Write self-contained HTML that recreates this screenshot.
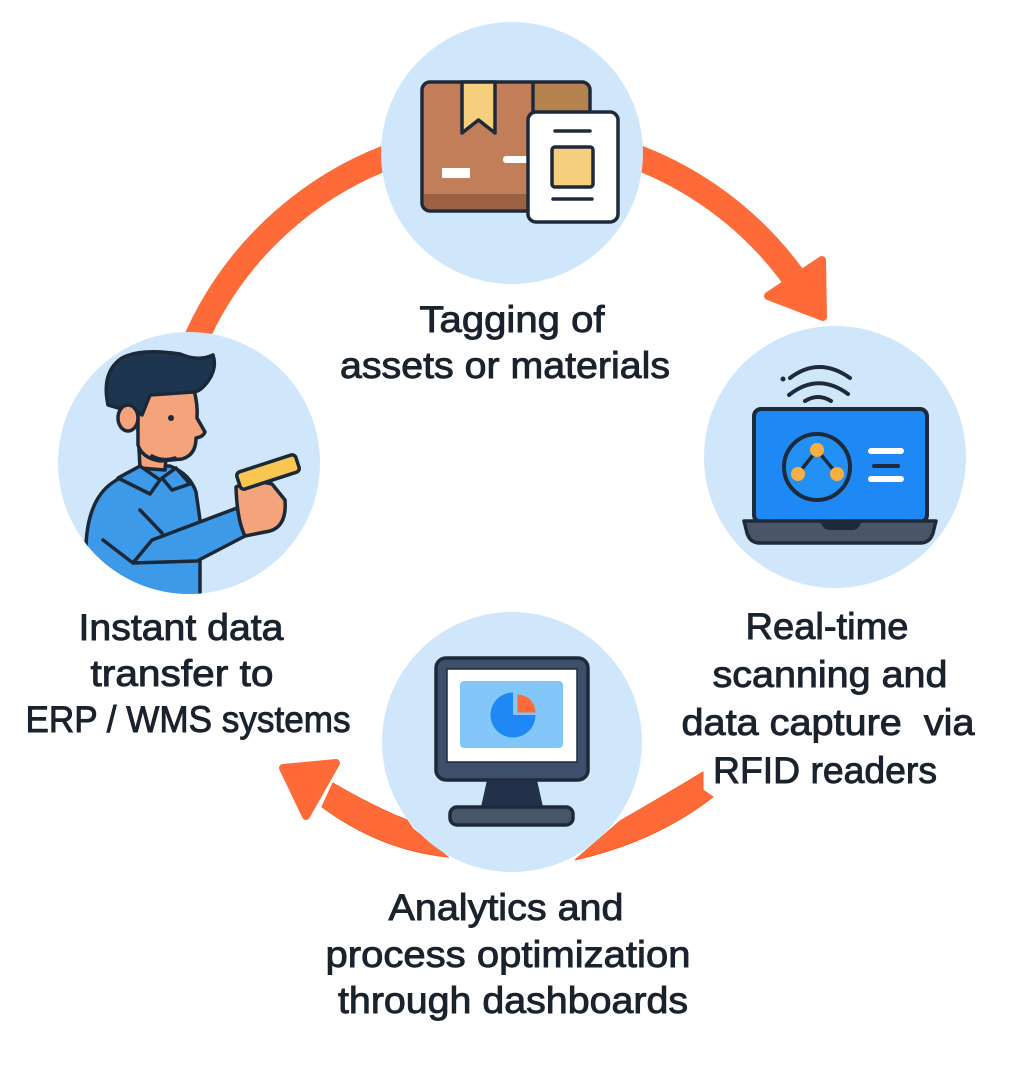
<!DOCTYPE html>
<html><head><meta charset="utf-8"><style>
html,body{margin:0;padding:0;background:#fff;}
svg{display:block;}
text{font-family:"Liberation Sans",sans-serif;font-size:37px;fill:#1a222d;stroke:#1a222d;stroke-width:0.9px;text-anchor:middle;}
</style></head><body>
<svg width="1024" height="1077" viewBox="0 0 1024 1077" xmlns="http://www.w3.org/2000/svg">
<defs><clipPath id="cl"><circle cx="189" cy="463" r="131"/></clipPath></defs>
<rect width="1024" height="1077" fill="#fff"/>

<!-- connectors -->
<path d="M 420 146.5 A 346 346 0 0 0 193.4 345" fill="none" stroke="#FF6B38" stroke-width="25"/>
<path d="M 604 146.5 A 346 346 0 0 1 794 278" fill="none" stroke="#FF6B38" stroke-width="25"/>
<polygon points="768,296 822,260 823,317" fill="#FF6B38" stroke="#FF6B38" stroke-width="8" stroke-linejoin="round"/>
<path d="M 703 772 L 703 790 L 713 797 Q 655 842 575 860 L 620 821 Q 665 795 703 772 Z" fill="#FF6B38" stroke="#FF5A22" stroke-width="1"/>
<path d="M 333 783 Q 372 806 407 820 L 413 829 L 448 857 Q 380 850 322 807 Z" fill="#FF6B38" stroke="#FF5A22" stroke-width="1"/>
<polygon points="283,768 336,763 306,816" fill="#FF6B38" stroke="#FF6B38" stroke-width="8" stroke-linejoin="round"/>

<!-- circles -->
<circle cx="512" cy="153" r="131" fill="#D0E7FB"/>
<circle cx="835" cy="457" r="131" fill="#D0E7FB"/>
<circle cx="189" cy="463" r="131" fill="#D0E7FB"/>
<circle cx="512" cy="742" r="130" fill="#D0E7FB"/>

<!-- top icon: box + tag -->
<rect x="422" y="82" width="168" height="129" rx="8" fill="#C27E58"/>
<rect x="535" y="85" width="53" height="40" fill="#B5844E"/>
<rect x="424" y="194" width="164" height="15" fill="#9B6142"/>
<rect x="422" y="82" width="168" height="129" rx="8" fill="none" stroke="#1e2a3a" stroke-width="3.5"/>
<line x1="533" y1="82" x2="533" y2="115" stroke="#1e2a3a" stroke-width="3.5"/>
<path d="M 462 82 L 495 82 L 495 133 L 478.5 120 L 462 133 Z" fill="#F5CF7E" stroke="#1e2a3a" stroke-width="3.5" stroke-linejoin="round"/>
<rect x="442" y="168" width="28" height="10" rx="1" fill="#fff"/>
<rect x="503" y="156" width="26" height="7" rx="3" fill="#fff"/>
<rect x="528" y="112" width="90" height="110" rx="8" fill="#fff" stroke="#1e2a3a" stroke-width="3.5"/>
<line x1="555" y1="131" x2="590" y2="131" stroke="#1e2a3a" stroke-width="3.5" stroke-linecap="round"/>
<rect x="552" y="147" width="41" height="40" rx="3" fill="#F5CF7E" stroke="#1e2a3a" stroke-width="3.5"/>
<line x1="553" y1="199" x2="592" y2="199" stroke="#1e2a3a" stroke-width="3.5" stroke-linecap="round"/>

<!-- right icon: laptop -->
<g stroke="#1e2a3a" stroke-width="4" stroke-linecap="round" fill="none">
<path d="M 790 378 Q 819 356 850 378"/>
<path d="M 789 395 Q 818 372 848 394"/>
<path d="M 805 401 Q 818 393 831 401"/>
</g>
<circle cx="783" cy="379" r="2.5" fill="#1e2a3a"/>
<rect x="754" y="409" width="173" height="113" rx="7" fill="#1E88F5" stroke="#1e2a3a" stroke-width="4"/>
<circle cx="817" cy="467" r="33" fill="#2290F5" stroke="#1e2a3a" stroke-width="4"/>
<polyline points="798,474 817,450 837,474" fill="none" stroke="#1e2a3a" stroke-width="3.5"/>
<circle cx="817" cy="450" r="7" fill="#F6B042"/>
<circle cx="798" cy="474" r="7" fill="#F6B042"/>
<circle cx="837" cy="474" r="7" fill="#F6B042"/>
<line x1="871" y1="451" x2="901" y2="451" stroke="#fff" stroke-width="6" stroke-linecap="round"/>
<line x1="874" y1="466" x2="898" y2="466" stroke="#1e2a3a" stroke-width="4" stroke-linecap="round"/>
<line x1="871" y1="479" x2="901" y2="479" stroke="#fff" stroke-width="6" stroke-linecap="round"/>
<path d="M 744 521 L 936 521 L 933 533 Q 930 543 920 543 L 760 543 Q 750 543 747 533 Z" fill="#4A5568" stroke="#1e2a3a" stroke-width="3.5" stroke-linejoin="round"/>
<path d="M 820 522 L 862 522 L 858 528 Q 856 530 852 530 L 830 530 Q 826 530 824 528 Z" fill="#1e2a3a"/>

<!-- bottom icon: monitor -->
<rect x="436" y="658" width="152" height="122" rx="10" fill="#3E4F6B" stroke="#1e2a3a" stroke-width="3.5"/>
<rect x="447" y="669" width="130" height="93" fill="#fff" stroke="#1e2a3a" stroke-width="1.5"/>
<rect x="460" y="681" width="103" height="67" rx="4" fill="#82C6FA"/>
<path d="M 513 715 L 513 692.5 A 22.5 22.5 0 1 0 535.5 715 Z" fill="#1E88F5"/>
<path d="M 517.5 712.5 L 517.5 694.5 A 18 18 0 0 1 535.5 712.5 Z" fill="#FF6B38"/>
<polygon points="487,780 537,780 543,807 481,807" fill="#22304A"/>
<rect x="450" y="807" width="123" height="18" rx="7" fill="#475569" stroke="#1e2a3a" stroke-width="3.5"/>

<!-- left icon: person -->
<g clip-path="url(#cl)" stroke="#1b2838" stroke-width="3.5" stroke-linejoin="round" stroke-linecap="round">
<path d="M 84 600 L 86 545 Q 88 500 112 483 Q 125 474 142 466 L 170 466 Q 190 474 196 492 L 200 520 L 200 600 Z" fill="#3C9AE8"/>
<path d="M 152 540 L 237 508 L 247 535 L 197 561 L 133 563 Z" fill="#3C9AE8"/>
<path d="M 103 540 L 133 563" fill="none"/>
<path d="M 140 510 L 162 533" fill="none"/>
<path d="M 138 430 L 140 468 L 165 470 L 167 445 Z" fill="#F4A37A"/>
<polygon points="118,478 140,466 160,480 150,494" fill="#3C9AE8"/>
<polygon points="162,478 176,468 190,484 172,490" fill="#3C9AE8"/>
<path d="M 145 393 L 194 390 Q 198 405 197 418 L 205 432 Q 203 437 196 438 Q 196 455 182 459 L 160 461 Q 142 458 138 445 L 138 415 Z" fill="#F4A37A"/>
<path d="M 108 405 Q 101 372 122 358 Q 140 348 180 354 Q 198 362 213 355 Q 218 370 205 385 Q 199 392 193 392 L 150 395 Q 146 405 142 415 L 135 410 Q 128 404 118 408 Z" fill="#1E3550"/>
<ellipse cx="128" cy="418" rx="10" ry="13" fill="#F4A37A"/>
<circle cx="171" cy="418" r="3" fill="#1b2838" stroke="none"/>
<path d="M 152 456 Q 163 462 175 458" fill="none"/>
<path d="M 236 487 Q 250 479 272 484 L 285 500 Q 287 526 270 531 L 245 536 Q 237 520 236 487 Z" fill="#F4A37A"/>
<rect x="-31" y="-9" width="62" height="18" rx="4" fill="#F9C74F" transform="translate(268 472) rotate(-18)"/>
</g>

<!-- labels -->
<text x="512" y="332" textLength="185" lengthAdjust="spacingAndGlyphs">Tagging of</text>
<text x="505" y="378" textLength="330" lengthAdjust="spacingAndGlyphs">assets or materials</text>

<text x="827" y="639" textLength="163" lengthAdjust="spacingAndGlyphs">Real-time</text>
<text x="830" y="687" textLength="235" lengthAdjust="spacingAndGlyphs">scanning and</text>
<text x="828" y="735" textLength="293" lengthAdjust="spacingAndGlyphs">data capture&#160; via</text>
<text x="825" y="783" textLength="224" lengthAdjust="spacingAndGlyphs">RFID readers</text>

<text x="181" y="640" textLength="205" lengthAdjust="spacingAndGlyphs">Instant data</text>
<text x="182" y="686" textLength="183" lengthAdjust="spacingAndGlyphs">transfer to</text>
<text x="188" y="732" textLength="325" lengthAdjust="spacingAndGlyphs">ERP / WMS systems</text>

<text x="506" y="920" textLength="235" lengthAdjust="spacingAndGlyphs">Analytics and</text>
<text x="508" y="967" textLength="365" lengthAdjust="spacingAndGlyphs">process optimization</text>
<text x="513" y="1013" textLength="350" lengthAdjust="spacingAndGlyphs">through dashboards</text>
</svg>
</body></html>
